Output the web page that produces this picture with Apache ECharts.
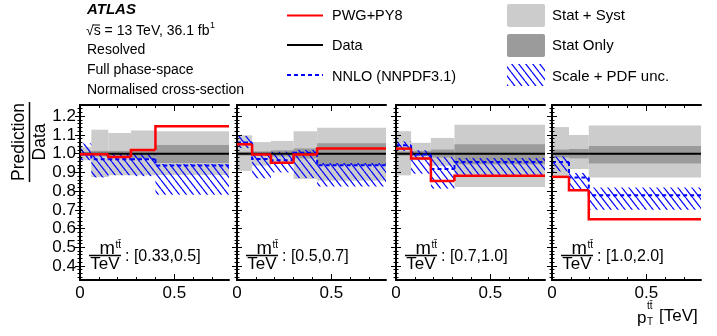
<!DOCTYPE html>
<html><head><meta charset="utf-8">
<script src="https://cdn.jsdelivr.net/npm/echarts@6/dist/echarts.min.js"></script>
<style>html,body{margin:0;padding:0;background:#fff}#c{width:717px;height:336px}</style>
</head><body><div id="c"></div>
<script>
// ---------------- data ----------------
const panelLabels = ['[0.33,0.5]', '[0.5,0.7]', '[0.7,1.0]', '[1.0,2.0]'];
const binEdges = [
  [0, 0.06, 0.15, 0.27, 0.40, 0.8],
  [0, 0.08, 0.18, 0.30, 0.425, 0.8],
  [0, 0.08, 0.185, 0.31, 0.8],
  [0, 0.09, 0.195, 0.8]
];
const pwgPy8 = [
  [0.997, 0.997, 0.982, 1.020, 1.146],
  [1.050, 0.996, 0.952, 0.995, 1.028],
  [1.027, 0.974, 0.854, 0.882],
  [0.876, 0.804, 0.650]
];
const statSystLo = [
  [0.965, 0.875, 0.885, 0.885, 0.886],
  [0.908, 0.936, 0.945, 0.865, 0.855],
  [0.884, 0.965, 0.935, 0.822],
  [0.878, 0.918, 0.872]
];
const statSystHi = [
  [1.035, 1.128, 1.110, 1.124, 1.120],
  [1.098, 1.062, 1.068, 1.120, 1.138],
  [1.120, 1.058, 1.084, 1.154],
  [1.142, 1.100, 1.150]
];
const statLo = [
  [0.990, 0.985, 0.985, 0.975, 0.950],
  [0.990, 0.990, 0.985, 0.975, 0.940],
  [0.990, 0.988, 0.980, 0.943],
  [0.980, 0.975, 0.947]
];
const statHi = [
  [1.010, 1.015, 1.015, 1.025, 1.046],
  [1.010, 1.012, 1.018, 1.028, 1.055],
  [1.012, 1.015, 1.022, 1.050],
  [1.022, 1.025, 1.041]
];
const nnlo = [
  [0.995, 0.970, 0.970, 0.970, 0.937],
  [1.060, 0.972, 0.965, 1.005, 0.938],
  [1.045, 0.995, 0.918, 0.956],
  [0.955, 0.872, 0.778]
];
const nnloLo = [
  [0.965, 0.873, 0.885, 0.880, 0.780],
  [1.030, 0.868, 0.900, 0.870, 0.825],
  [1.015, 0.893, 0.813, 0.879],
  [0.905, 0.808, 0.700]
];
const nnloHi = [
  [1.055, 0.998, 1.000, 1.000, 0.945],
  [1.095, 0.998, 1.010, 1.020, 0.950],
  [1.065, 1.018, 0.982, 0.977],
  [0.985, 0.897, 0.819]
];
const dataRatio = 1.0;
const yTicks = [0.4, 0.5, 0.6, 0.7, 0.8, 0.9, 1.0, 1.1, 1.2];
const xTicks = [0, 0.5];
const xMinorTicks = [0.1, 0.2, 0.3, 0.4, 0.6, 0.7];

// ---------------- layout ----------------
const FONT = "'Liberation Sans', Arial, Helvetica, sans-serif";
const panelLeft = [80, 237, 396, 552];
const panelWidth = 149, panelTop = 105, panelHeight = 175;
const yMin = 0.325, yMax = 1.26, xMin = 0, xMax = 0.79;
const yMinorTicks = [];
for (let k = 17; k <= 62; k++) { if (k % 5 !== 0) yMinorTicks.push(+(k * 0.02).toFixed(2)); }

const C_LIGHT = '#cccccc', C_DARK = '#9b9b9b', C_RED = '#ff0000', C_BLUE = '#0000ff';

// hatch pattern
const hc = document.createElement('canvas');
hc.width = 7; hc.height = 9;
const hctx = hc.getContext('2d');
hctx.strokeStyle = C_BLUE; hctx.lineWidth = 1.2;
for (const dx of [-7, 0, 7]) { hctx.beginPath(); hctx.moveTo(dx, 0); hctx.lineTo(dx + 7, 9); hctx.stroke(); }
const hatch = { image: hc, repeat: 'repeat' };

const mctx = document.createElement('canvas').getContext('2d');
function tw(text, size) { mctx.font = size + 'px ' + FONT; return mctx.measureText(text).width; }

const chart = echarts.init(document.getElementById('c'), null, { renderer: 'canvas' });

const grids = [], xAxes = [], yAxes = [], series = [];

function bandRender(fill) {
  return function (params, api) {
    const p0 = api.coord([api.value(0), api.value(3)]);
    const p1 = api.coord([api.value(1), api.value(2)]);
    return { type: 'rect', shape: { x: p0[0], y: p0[1], width: p1[0] - p0[0], height: p1[1] - p0[1] }, style: { fill: fill } };
  };
}
function stepRender(color, width, dash) {
  return function (params, api) {
    const a = api.coord([api.value(0), api.value(3)]);
    const b = api.coord([api.value(0), api.value(2)]);
    const c = api.coord([api.value(1), api.value(2)]);
    return { type: 'polyline', shape: { points: [a, b, c] }, style: { stroke: color, lineWidth: width, lineDash: dash || null, fill: null } };
  };
}
function bandData(p, lo, hi) {
  return lo[p].map((v, i) => [binEdges[p][i], binEdges[p][i + 1], v, hi[p][i]]);
}
function stepData(p, vals) {
  return vals[p].map((v, i) => [binEdges[p][i], binEdges[p][i + 1], v, i === 0 ? v : vals[p][i - 1]]);
}

for (let p = 0; p < 4; p++) {
  grids.push({ left: panelLeft[p], top: panelTop, width: panelWidth, height: panelHeight, containLabel: false });
  const xBase = { type: 'value', gridIndex: p, min: xMin, max: xMax, splitLine: { show: false }, z: 5 };
  xAxes.push(Object.assign({}, xBase, {
    position: 'bottom',
    axisLine: { show: true, lineStyle: { color: '#000', width: 2 } },
    axisTick: { show: true, inside: true, length: 6, customValues: xTicks, lineStyle: { color: '#000', width: 1 } },
    axisLabel: { show: true, customValues: xTicks, fontSize: 17, fontFamily: FONT, color: '#000', margin: 5,
      formatter: v => (v === 0 ? '0' : String(v)) }
  }));
  xAxes.push(Object.assign({}, xBase, {
    position: 'bottom', axisLine: { show: false },
    axisTick: { show: true, inside: true, length: 3, customValues: xMinorTicks, lineStyle: { color: '#000', width: 1 } },
    axisLabel: { show: false }
  }));
  xAxes.push(Object.assign({}, xBase, {
    position: 'top',
    axisLine: { show: true, lineStyle: { color: '#000', width: 2 } },
    axisTick: { show: true, inside: true, length: 6, customValues: xTicks, lineStyle: { color: '#000', width: 1 } },
    axisLabel: { show: false }
  }));
  xAxes.push(Object.assign({}, xBase, {
    position: 'top', axisLine: { show: false },
    axisTick: { show: true, inside: true, length: 3, customValues: xMinorTicks, lineStyle: { color: '#000', width: 1 } },
    axisLabel: { show: false }
  }));
  const yBase = { type: 'value', gridIndex: p, min: yMin, max: yMax, splitLine: { show: false }, z: 5 };
  yAxes.push(Object.assign({}, yBase, {
    position: 'left',
    axisLine: { show: true, lineStyle: { color: '#000', width: 2 } },
    axisTick: { show: true, inside: true, length: 5, customValues: yTicks, lineStyle: { color: '#000', width: 1 } },
    axisLabel: { show: p === 0, customValues: yTicks, fontSize: 17, fontFamily: FONT, color: '#000', margin: 4,
      formatter: v => v.toFixed(1) }
  }));
  yAxes.push(Object.assign({}, yBase, {
    position: 'left', axisLine: { show: false },
    axisTick: { show: true, inside: true, length: 2.5, customValues: yMinorTicks, lineStyle: { color: '#000', width: 1 } },
    axisLabel: { show: false }
  }));
  yAxes.push(Object.assign({}, yBase, {
    position: 'right',
    axisLine: { show: true, lineStyle: { color: '#000', width: 2 } },
    axisTick: { show: true, inside: true, length: 5, customValues: yTicks, lineStyle: { color: '#000', width: 1 } },
    axisLabel: { show: false }
  }));
  yAxes.push(Object.assign({}, yBase, {
    position: 'right', axisLine: { show: false },
    axisTick: { show: true, inside: true, length: 2.5, customValues: yMinorTicks, lineStyle: { color: '#000', width: 1 } },
    axisLabel: { show: false }
  }));
  const xi = p * 4, yi = p * 4;
  const common = { type: 'custom', xAxisIndex: xi, yAxisIndex: yi, clip: true, silent: true, encode: { x: [0, 1], y: [2, 3] } };
  series.push(Object.assign({}, common, { z: 1, renderItem: bandRender(C_LIGHT), data: bandData(p, statSystLo, statSystHi) }));
  series.push(Object.assign({}, common, { z: 2, renderItem: bandRender(C_DARK), data: bandData(p, statLo, statHi) }));
  series.push(Object.assign({}, common, { z: 3, renderItem: bandRender(hatch), data: bandData(p, nnloLo, nnloHi) }));
  series.push({ type: 'line', xAxisIndex: xi, yAxisIndex: yi, z: 4, symbol: 'none', silent: true,
    lineStyle: { color: '#000', width: 2 }, data: [[xMin, dataRatio], [xMax, dataRatio]] });
  series.push(Object.assign({}, common, { z: 5, renderItem: stepRender(C_BLUE, 2, [4, 3]), data: stepData(p, nnlo) }));
  series.push(Object.assign({}, common, { z: 6, renderItem: stepRender(C_RED, 2.5), data: stepData(p, pwgPy8) }));
}

// ---------------- texts ----------------
const T = (x, y, text, size, extra) => ({
  type: 'text', x: x, y: y, z: 20, silent: true,
  style: Object.assign({ text: text, fontSize: size, fontFamily: FONT, fill: '#000', align: 'left', verticalAlign: 'middle',
    textAlign: 'left', textVerticalAlign: 'middle' }, extra || {})
});
const graphics = [];
graphics.push(T(87, 10, 'ATLAS', 15, { fontWeight: 'bold', fontStyle: 'italic' }));
const sLine = '\u221As = 13 TeV, 36.1 fb';
graphics.push(T(86, 31, sLine, 14));
graphics.push({ type: 'line', z: 20, shape: { x1: 93, y1: 25, x2: 100, y2: 25 }, style: { stroke: '#000', lineWidth: 1 } });
graphics.push(T(86 + tw(sLine, 14) + 0.5, 26, '1', 9));
graphics.push(T(87, 50, 'Resolved', 14));
graphics.push(T(87, 70, 'Full phase-space', 14));
graphics.push(T(87, 90, 'Normalised cross-section', 14));

// legend
graphics.push({ type: 'line', z: 20, shape: { x1: 287, y1: 15.5, x2: 323, y2: 15.5 }, style: { stroke: C_RED, lineWidth: 2 } });
graphics.push({ type: 'line', z: 20, shape: { x1: 287, y1: 45, x2: 323, y2: 45 }, style: { stroke: '#000', lineWidth: 2 } });
graphics.push({ type: 'line', z: 20, shape: { x1: 287, y1: 75, x2: 323, y2: 75 }, style: { stroke: C_BLUE, lineWidth: 2, lineDash: [4, 3] } });
graphics.push(T(332, 16, 'PWG+PY8', 14.5));
graphics.push(T(332, 45.5, 'Data', 14.5));
graphics.push(T(332, 76.5, 'NNLO (NNPDF3.1)', 14.5));
graphics.push({ type: 'rect', z: 20, shape: { x: 507, y: 4, width: 38, height: 23, r: 2 }, style: { fill: C_LIGHT } });
graphics.push({ type: 'rect', z: 20, shape: { x: 507, y: 34, width: 38, height: 23, r: 2 }, style: { fill: C_DARK } });
graphics.push({ type: 'rect', z: 20, shape: { x: 507, y: 64, width: 38, height: 22 }, style: { fill: hatch } });
graphics.push(T(552, 16, 'Stat + Syst', 15));
graphics.push(T(552, 46, 'Stat Only', 15));
graphics.push(T(552, 77, 'Scale + PDF unc.', 15));

// y-axis title (fraction, rotated)
graphics.push({
  type: 'group', x: 29.5, y: 142, rotation: Math.PI / 2, z: 20, silent: true,
  children: [
    { type: 'text', x: 0, y: -1.5, style: { text: 'Prediction', fontSize: 17.5, fontFamily: FONT, fill: '#000', align: 'center', verticalAlign: 'bottom', textAlign: 'center', textVerticalAlign: 'bottom' } },
    { type: 'line', shape: { x1: -40, y1: 0, x2: 40, y2: 0 }, style: { stroke: '#000', lineWidth: 1.5 } },
    { type: 'text', x: 0, y: 1.5, style: { text: 'Data', fontSize: 17.5, fontFamily: FONT, fill: '#000', align: 'center', verticalAlign: 'top', textAlign: 'center', textVerticalAlign: 'top' } }
  ]
});

// panel labels
const ttbar = 't\u0074\u0304';
for (let p = 0; p < 4; p++) {
  const L = panelLeft[p];
  graphics.push({ type: 'line', z: 20, shape: { x1: L + 9, y1: 255.5, x2: L + 41, y2: 255.5 }, style: { stroke: '#000', lineWidth: 1.5 } });
  graphics.push(T(L + 35, 249, 'm', 18.5, { align: 'right', textAlign: 'right' }));
  graphics.push(T(L + 35.5, 245, ttbar, 10));
  graphics.push(T(L + 25, 264, 'TeV', 17, { align: 'center', textAlign: 'center' }));
  graphics.push(T(L + 45, 257, ': ' + panelLabels[p], 16));
}

// x-axis title
graphics.push(T(637, 318, 'p', 17));
graphics.push(T(637 + tw('p', 17) + 0.5, 306.5, ttbar, 10));
graphics.push(T(637 + tw('p', 17) + 0.5, 322, 'T', 10));
graphics.push(T(659, 316, '[TeV]', 17));

chart.setOption({
  backgroundColor: '#ffffff',
  animation: false,
  grid: grids,
  xAxis: xAxes,
  yAxis: yAxes,
  series: series,
  graphic: { elements: graphics }
});
</script>
</body></html>
